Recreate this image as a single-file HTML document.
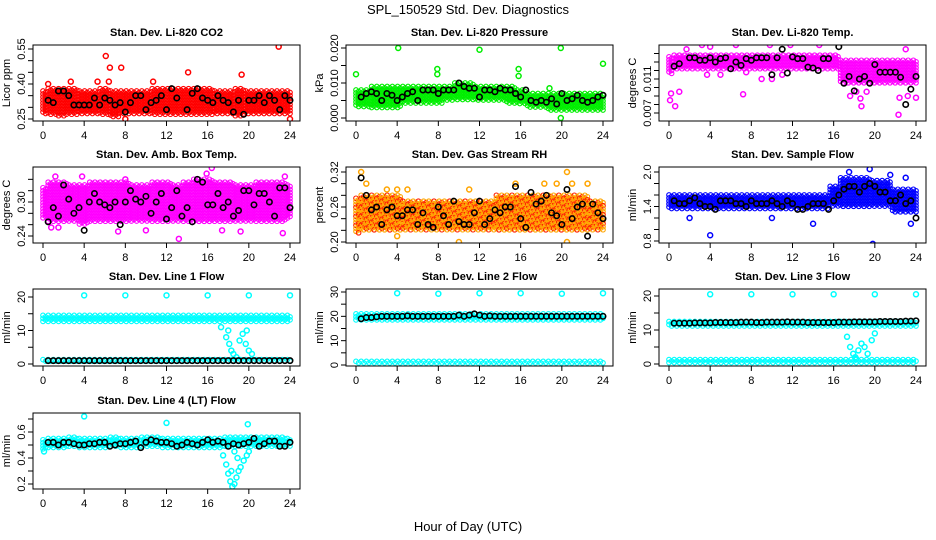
<!DOCTYPE html>
<html><head><meta charset="utf-8"><style>
body{margin:0;background:#fff;}
svg{display:block;font-family:"Liberation Sans",sans-serif;}
</style></head><body>
<svg id="chart" width="936" height="540" viewBox="0 0 936 540" xmlns="http://www.w3.org/2000/svg">
<rect x="0" y="0" width="936" height="540" fill="#fff"/>
<text x="468" y="14" text-anchor="middle" font-size="13">SPL_150529  Std. Dev. Diagnostics</text>
<text x="468" y="531" text-anchor="middle" font-size="13">Hour of Day (UTC)</text>
</svg>
<script>
const xTicks = [0,4,8,12,16,20,24];

const co2Lo = [0.27,0.27,0.26,0.27,0.27,0.27,0.27,0.26,0.27,0.27,0.27,0.27,0.27,0.27,0.27,0.27,0.27,0.27,0.27,0.26,0.27,0.27,0.27,0.27,0.27];
const co2Hi = [0.37,0.38,0.38,0.38,0.37,0.37,0.38,0.37,0.37,0.37,0.37,0.38,0.38,0.38,0.38,0.38,0.38,0.37,0.37,0.38,0.37,0.37,0.37,0.37,0.37];
const co2Blk = [0.33,0.32,0.37,0.37,0.35,0.31,0.31,0.31,0.31,0.34,0.31,0.34,0.33,0.31,0.32,0.28,0.32,0.35,0.35,0.29,0.32,0.33,0.35,0.29,0.38,0.34,null,0.29,0.36,0.38,0.34,0.33,0.32,0.35,0.33,0.32,0.28,0.33,0.27,0.33,0.33,0.35,0.32,0.35,0.33,0.29,0.35,0.33];
const co2Out = [[6.1,0.52],[6.5,0.47],[7.6,0.47],[6.4,0.41],[14.1,0.45],[19.3,0.44],[22.9,0.56],[8,0.25],[24,0.25],[5.3,0.41],[10.7,0.41],[0.5,0.40],[2.7,0.41]];

const presLo = [0.003,0.003,0.003,0.003,0.003,0.004,0.004,0.004,0.004,0.005,0.005,0.005,0.005,0.005,0.005,0.004,0.004,0.003,0.003,0.002,0.002,0.002,0.002,0.002,0.002];
const presHi = [0.008,0.008,0.009,0.009,0.009,0.009,0.009,0.009,0.009,0.009,0.010,0.010,0.009,0.009,0.009,0.009,0.008,0.007,0.007,0.007,0.007,0.007,0.007,0.007,0.007];
const presBlk = [0.006,0.007,0.0075,0.007,0.005,0.007,0.0065,0.005,0.006,0.007,0.0075,0.005,0.008,0.008,0.008,0.007,0.008,0.008,0.008,0.010,0.009,0.0085,0.0085,0.006,0.008,0.008,0.0075,0.0085,0.008,0.008,0.007,0.006,0.008,0.005,0.0045,0.005,0.0045,0.0055,0.004,0.007,0.005,0.0055,0.0065,0.005,0.0045,0.005,0.006,0.0065];
const presOut = [[0,0.0125],[4.1,0.020],[7.9,0.014],[7.9,0.0125],[12,0.0195],[15.8,0.014],[15.8,0.012],[19.9,0.020],[19.9,0.0],[24,0.0155],[18.8,0.0085]];

const tempLo = [0.0115,0.0122,0.0122,0.0122,0.0122,0.0122,0.0122,0.0122,0.0122,0.0122,0.0122,0.0122,0.0122,0.0122,0.0122,0.0122,0.0122,0.0105,0.0105,0.0105,0.0105,0.0105,0.0105,0.0105,0.0105];
const tempHi = [0.0136,0.0138,0.0138,0.0138,0.0138,0.0138,0.0138,0.0138,0.0138,0.0138,0.0138,0.0138,0.0138,0.0138,0.0138,0.0138,0.0138,0.0132,0.0132,0.0132,0.0132,0.0132,0.0132,0.0132,0.0132];
const tempBlk = [0.0125,0.0128,null,0.0135,0.0135,0.0132,0.0132,0.0135,0.013,0.0134,0.0135,0.0122,0.013,0.0126,0.0134,0.0132,0.0135,0.0135,0.0135,0.0115,0.0135,0.0145,0.0117,0.0136,0.0134,0.0134,0.0124,0.0123,0.012,0.0134,0.0134,null,0.0148,0.0105,0.0113,0.0096,0.011,0.0113,0.0105,0.0127,0.0118,0.0118,0.0118,0.0118,0.0112,0.008,0.0098,0.0113];
const tempOut = [[0.1,0.0085],[0.2,0.0093],[0.6,0.0078],[1,0.0095],[1.7,0.0145],[3.2,0.015],[4,0.0148],[6.5,0.015],[7.2,0.0092],[9.8,0.015],[11.8,0.015],[14.6,0.015],[17.6,0.009],[18.2,0.0095],[18.6,0.0087],[18.7,0.0078],[19.2,0.0095],[22.3,0.0068],[22.4,0.0088],[23,0.0145],[23.2,0.009],[24,0.0088],[3.7,0.0115],[5,0.0115],[7.5,0.0118],[9,0.011],[10,0.011],[11,0.0115]];

const ambLo = [0.27,0.265,0.265,0.265,0.26,0.265,0.265,0.265,0.265,0.265,0.265,0.265,0.265,0.265,0.265,0.265,0.265,0.265,0.265,0.265,0.265,0.265,0.265,0.265,0.27];
const ambHi = [0.325,0.335,0.335,0.33,0.33,0.335,0.335,0.335,0.335,0.33,0.33,0.335,0.335,0.33,0.335,0.34,0.34,0.335,0.335,0.33,0.33,0.335,0.335,0.335,0.33];
const ambBlk = [0.265,0.29,0.275,0.33,0.305,0.28,0.29,0.25,0.30,0.315,0.30,0.295,0.29,0.30,0.26,0.30,0.32,0.305,0.30,0.31,0.28,0.30,0.315,0.27,0.29,0.32,0.275,0.29,0.265,0.34,0.335,0.295,0.295,0.315,0.29,0.30,0.275,0.285,0.32,0.32,0.295,0.315,0.315,0.30,0.275,0.325,0.325,0.29];
const ambOut = [[1.2,0.345],[3.8,0.345],[8,0.34],[13.2,0.235],[15.9,0.35],[16.4,0.36],[19.2,0.248],[23.5,0.345],[23.3,0.245],[7.3,0.248],[10,0.25],[17.4,0.25],[0.8,0.255],[1.5,0.255]];

const rhLo = [0.215,0.22,0.22,0.22,0.22,0.22,0.22,0.22,0.22,0.22,0.22,0.22,0.22,0.22,0.22,0.22,0.22,0.22,0.22,0.22,0.22,0.22,0.22,0.22,0.22];
const rhHi = [0.275,0.28,0.28,0.28,0.28,0.27,0.27,0.27,0.27,0.27,0.27,0.27,0.27,0.27,0.28,0.28,0.28,0.28,0.28,0.28,0.28,0.28,0.28,0.27,0.27];
const rhBlk = [0.31,0.28,0.255,0.26,0.23,0.255,0.26,0.245,0.245,0.255,0.255,0.23,0.25,0.23,0.225,0.26,0.245,0.23,0.27,0.235,0.23,0.23,0.25,0.27,0.23,0.24,0.255,0.25,0.26,0.26,0.295,0.24,0.225,0.285,0.265,0.27,0.28,0.25,0.245,0.23,0.29,0.24,0.26,0.265,0.21,0.265,0.25,0.24];
const rhOut = [[0.5,0.32],[1,0.30],[3,0.29],[4,0.29],[5,0.29],[10,0.20],[11,0.29],[15.5,0.30],[18.3,0.30],[19.5,0.30],[20.5,0.32],[20.5,0.20],[21,0.30],[22.5,0.30],[4,0.21]];

const sfLo = [1.35,1.35,1.35,1.35,1.35,1.35,1.35,1.35,1.35,1.35,1.35,1.35,1.35,1.35,1.35,1.35,1.4,1.4,1.4,1.4,1.4,1.4,1.3,1.3,1.3];
const sfHi = [1.6,1.6,1.6,1.6,1.6,1.6,1.6,1.6,1.6,1.6,1.6,1.6,1.6,1.6,1.6,1.6,1.75,1.9,1.9,1.9,1.85,1.85,1.7,1.7,1.7];
const sfBlk = [1.5,1.45,1.45,1.5,1.55,1.45,1.4,1.4,1.35,1.5,1.5,1.5,1.45,1.45,1.4,1.5,1.45,1.45,1.45,1.5,1.45,1.4,1.5,1.45,1.35,1.35,1.4,1.45,1.45,1.45,1.35,1.5,1.6,1.7,1.75,1.75,1.65,1.75,1.8,1.75,1.65,1.65,1.5,1.5,1.6,1.45,1.5,1.2];
const sfOut = [[4,0.9],[19.8,0.75],[19.5,2.05],[17.5,2.0],[21.5,1.95],[23,1.9],[23.5,1.1],[14,1.1],[2,1.2],[10,1.2]];

const l1Lo = [12.5,12.5,12.5,12.5,12.5,12.5,12.5,12.5,12.5,12.5,12.5,12.5,12.5,12.5,12.5,12.5,12.5,12.5,12.5,12.5,12.5,12.5,12.5,12.5,12.5];
const l1Hi = [14.5,14.5,14.5,14.5,14.5,14.5,14.5,14.5,14.5,14.5,14.5,14.5,14.5,14.5,14.5,14.5,14.5,14.5,14.5,14.5,14.5,14.5,14.5,14.5,14.5];
const l1Lo2 = [0.5,0.5,0.5,0.5,0.5,0.5,0.5,0.5,0.5,0.5,0.5,0.5,0.5,0.5,0.5,0.5,0.5,0.5,0.5,0.5,0.5,0.5,0.5,0.5,0.5];
const l1Hi2 = [1.3,1.3,1.3,1.3,1.3,1.3,1.3,1.3,1.3,1.3,1.3,1.3,1.3,1.3,1.3,1.3,1.3,1.3,1.3,1.3,1.3,1.3,1.3,1.3,1.3];
const l1Blk = [1,1,1,1,1,1,1,1,1,1,1,1,1,1,1,1,1,1,1,1,1,1,1,1,1,1,1,1,1,1,1,1,1,1,1,1,1,1,1,1,1,1,1,1,1,1,1,1];
const l1Out = [[4,20.5],[8,20.5],[12,20.5],[16,20.5],[20,20.5],[24,20.5],[17.3,11],[17.8,8],[18.1,6],[18.3,4],[18.5,3],[18.8,2],[19.1,7],[19.4,9],[19.7,6],[20,4],[20.3,3],[18,10],[19.8,10]];

const l2Lo = [18.5,18.5,18.5,18.5,18.5,18.5,18.5,18.5,18.5,18.5,18.5,18.5,18.5,18.5,18.5,18.5,18.5,18.5,18.5,18.5,18.5,18.5,18.5,18.5,18.5];
const l2Hi = [21,21,21,21,21,21,21,21,21,21,21,21,21,21,21,21,21,21,21,21,21,21,21,21,21];
const l2Lo2 = [0.3,0.3,0.3,0.3,0.3,0.3,0.3,0.3,0.3,0.3,0.3,0.3,0.3,0.3,0.3,0.3,0.3,0.3,0.3,0.3,0.3,0.3,0.3,0.3,0.3];
const l2Hi2 = [1.5,1.5,1.5,1.5,1.5,1.5,1.5,1.5,1.5,1.5,1.5,1.5,1.5,1.5,1.5,1.5,1.5,1.5,1.5,1.5,1.5,1.5,1.5,1.5,1.5];
const l2Blk = [19,19.5,19.5,19.8,20,20,20,20,20,20.2,20,20,20,20,20,20,20,20,20,20.5,20,20.5,21,20.5,20,20.2,20,20,20,20,20,20,20,20,20,20,20,20,20,20,20,20,20,20,20,20,20,20];
const l2Out = [[4,29.5],[8,29.3],[12,29.5],[16,29.5],[20,29.3],[24,29.5]];

const l3Lo = [11,11,11,11,11,11,11,11,11,11,11,11,11,11,11,11,11,11,11,11,11,11,11,11,11];
const l3Hi = [12.5,12.5,12.5,12.5,12.5,12.5,12.5,12.5,12.5,12.5,12.5,12.5,12.5,12.5,12.5,12.5,12.5,12.5,12.5,12.5,12.5,12.5,12.5,12.5,12.5];
const l3Lo2 = [0.3,0.3,0.3,0.3,0.3,0.3,0.3,0.3,0.3,0.3,0.3,0.3,0.3,0.3,0.3,0.3,0.3,0.3,0.3,0.3,0.3,0.3,0.3,0.3,0.3];
const l3Hi2 = [1.3,1.3,1.3,1.3,1.3,1.3,1.3,1.3,1.3,1.3,1.3,1.3,1.3,1.3,1.3,1.3,1.3,1.3,1.3,1.3,1.3,1.3,1.3,1.3,1.3];
const l3Blk = [12,12,12,12,12.1,12.1,12.1,12.1,12.2,12.2,12.2,12.2,12.2,12.3,12.3,12.3,12.2,12.2,12.3,12.3,12.3,12.3,12.4,12.3,12.3,12.3,12.2,12.2,12.2,12.2,12.2,12.2,12.3,12.3,12.3,12.4,12.4,12.4,12.4,12.4,12.5,12.5,12.5,12.5,12.5,12.6,12.6,12.7];
const l3Out = [[4,20.5],[8,20.5],[12,20.5],[16,20.5],[20,20.5],[24,20.5],[17.3,8],[17.6,5],[17.9,3],[18.1,2],[18.4,4],[18.7,6],[19,5],[19.3,3],[19.7,7],[20,9],[18.2,1.5]];

const l4Lo = [0.47,0.48,0.48,0.48,0.48,0.48,0.48,0.48,0.48,0.48,0.48,0.48,0.48,0.48,0.48,0.48,0.48,0.48,0.49,0.49,0.49,0.49,0.49,0.49,0.49];
const l4Hi = [0.54,0.55,0.55,0.56,0.55,0.55,0.55,0.56,0.55,0.55,0.56,0.56,0.55,0.55,0.55,0.55,0.55,0.55,0.56,0.56,0.56,0.56,0.56,0.56,0.55];
const l4Blk = [0.52,0.52,0.50,0.52,0.52,0.51,0.50,0.50,0.51,0.51,0.52,0.52,0.49,0.50,0.51,0.51,0.52,0.53,0.48,0.52,0.54,0.53,0.52,0.52,0.51,0.49,0.50,0.52,0.51,0.50,0.52,0.54,0.52,0.53,0.52,0.49,0.51,0.50,0.51,0.52,0.55,0.49,0.51,0.53,0.53,0.49,0.49,0.52];
const l4Out = [[4,0.72],[12,0.67],[19.9,0.66],[0.1,0.45],[17.5,0.42],[17.8,0.35],[18,0.28],[18.2,0.22],[18.4,0.18],[18.6,0.2],[18.8,0.25],[19,0.3],[19.2,0.33],[19.5,0.38],[19.8,0.42],[20,0.45],[18.3,0.3],[18.9,0.4],[18.6,0.45]];

const rowTop = [45,167,289,413];
const rowBot = [121,243,366,489];
const colX0 = [43,356,669];

const panels = [
 {c:0,r:0,name:'co2',title:'Stan. Dev. Li-820 CO2',ylab:'Licor ppm',y0:0.25,p0:119,y1:0.55,p1:49,ticks:[0.25,0.30,0.35,0.40,0.45,0.50,0.55],labels:['0.25','0.40','0.55'],color:'#ff0000',bands:[[co2Lo,co2Hi]],blk:co2Blk,out:co2Out},
 {c:1,r:0,name:'pressure',title:'Stan. Dev. Li-820 Pressure',ylab:'kPa',y0:0,p0:118,y1:0.02,p1:48,ticks:[0,0.005,0.01,0.015,0.02],labels:['0.000','0.010','0.020'],color:'#00ee00',bands:[[presLo,presHi]],blk:presBlk,out:presOut},
 {c:2,r:0,name:'li820-temp',title:'Stan. Dev. Li-820 Temp.',ylab:'degrees C',y0:0.007,p0:113,y1:0.011,p1:79,ticks:[0.007,0.008,0.009,0.010,0.011,0.012,0.013,0.014],labels:['0.007','0.011'],color:'#ff00ff',bands:[[tempLo,tempHi]],blk:tempBlk,out:tempOut},
 {c:0,r:1,name:'amb-box-temp',title:'Stan. Dev. Amb. Box Temp.',ylab:'degrees C',y0:0.24,p0:236,y1:0.30,p1:202,ticks:[0.24,0.26,0.28,0.30,0.32,0.34],labels:['0.24','0.30'],color:'#ff00ff',bands:[[ambLo,ambHi]],blk:ambBlk,out:ambOut},
 {c:1,r:1,name:'gas-stream-rh',title:'Stan. Dev. Gas Stream RH',ylab:'percent',y0:0.20,p0:242,y1:0.32,p1:172,ticks:[0.20,0.22,0.24,0.26,0.28,0.30,0.32],labels:['0.20','0.26','0.32'],color:'#ffa500',color2:'#ff2000',bands:[[rhLo,rhHi]],blk:rhBlk,out:rhOut},
 {c:2,r:1,name:'sample-flow',title:'Stan. Dev. Sample Flow',ylab:'ml/min',y0:0.8,p0:241,y1:2.0,p1:172,ticks:[0.8,1.0,1.2,1.4,1.6,1.8,2.0],labels:['0.8','1.4','2.0'],color:'#0000ff',bands:[[sfLo,sfHi]],blk:sfBlk,out:sfOut},
 {c:0,r:2,name:'line1-flow',title:'Stan. Dev. Line 1 Flow',ylab:'ml/min',y0:0,p0:364,y1:20,p1:297,ticks:[0,5,10,15,20],labels:['0','10','20'],color:'#00ffff',bands:[[l1Lo,l1Hi],[l1Lo2,l1Hi2]],blk:l1Blk,out:l1Out},
 {c:1,r:2,name:'line2-flow',title:'Stan. Dev. Line 2 Flow',ylab:'ml/min',y0:0,p0:365,y1:30,p1:292,ticks:[0,5,10,15,20,25,30],labels:['0','10','20','30'],color:'#00ffff',bands:[[l2Lo,l2Hi],[l2Lo2,l2Hi2]],blk:l2Blk,out:l2Out},
 {c:2,r:2,name:'line3-flow',title:'Stan. Dev. Line 3 Flow',ylab:'ml/min',y0:0,p0:364,y1:20,p1:296,ticks:[0,5,10,15,20],labels:['0','10','20'],color:'#00ffff',bands:[[l3Lo,l3Hi],[l3Lo2,l3Hi2]],blk:l3Blk,out:l3Out},
 {c:0,r:3,name:'line4-flow',title:'Stan. Dev. Line 4 (LT) Flow',ylab:'ml/min',y0:0.2,p0:484,y1:0.6,p1:432,ticks:[0.2,0.3,0.4,0.5,0.6,0.7],labels:['0.2','0.4','0.6'],color:'#00ffff',bands:[[l4Lo,l4Hi]],blk:l4Blk,out:l4Out}
];

const NS = 'http://www.w3.org/2000/svg';
const svg = document.getElementById('chart');
function mk(tag, attrs, parent){
  const e = document.createElementNS(NS, tag);
  for (const k in attrs) e.setAttribute(k, attrs[k]);
  parent.appendChild(e);
  return e;
}

panels.forEach(p => {
  const x0 = colX0[p.c];
  const xs = t => x0 + t * 247 / 24;
  const ys = v => p.p0 + (v - p.y0) * (p.p1 - p.p0) / (p.y1 - p.y0);
  const top = rowTop[p.r], bot = rowBot[p.r];
  const left = x0 - 10, right = x0 + 257;

  const g = mk('g', {}, svg);
  
  

  const clip = mk('clipPath', {id: 'clip-' + p.name}, g);
  mk('rect', {x: left, y: top, width: right - left, height: bot - top}, clip);

  const title = mk('text', {x: (left + right) / 2, y: top - 9, 'text-anchor': 'middle', 'font-size': 11, 'font-weight': 'bold'}, g);
  title.textContent = p.title;
  
  

  const yl = mk('text', {x: left - 23, y: (top + bot) / 2, 'text-anchor': 'middle', 'font-size': 11, transform: 'rotate(-90 ' + (left - 23) + ' ' + ((top + bot) / 2) + ')'}, g);
  yl.textContent = p.ylab;
  
  

  const marks = mk('g', {'clip-path': 'url(#clip-' + p.name + ')', fill: 'none'}, g);
  
  

  p.bands.forEach(b => {
    const lo = b[0], hi = b[1];
    let col = 0;
    for (let px = xs(0); px <= xs(24) + 0.1; px += 2.6) {
      const t = (px - x0) * 24 / 247;
      const h = Math.min(24, Math.max(0, Math.round(t)));
      const yTop = ys(hi[h]), yBot = ys(lo[h]);
      const off = (col % 2) * 1.5;
      let rowi = 0;
      for (let py = Math.min(yTop, yBot) + off; py <= Math.max(yTop, yBot); py += 3) {
        const stroke = (p.color2 && (rowi + col) % 3 === 0) ? p.color2 : p.color;
        const c = mk('circle', {cx: px.toFixed(1), cy: py.toFixed(1), r: 2.3, stroke: stroke, 'stroke-width': 1.1}, marks);
        
        
        rowi++;
      }
      col++;
    }
  });

  p.out.forEach(o => {
    const c = mk('circle', {cx: xs(o[0]), cy: ys(o[1]), r: 2.5, stroke: p.color, 'stroke-width': 1.5}, marks);
    
    
  });

  p.blk.forEach((v, i) => {
    if (v === null) return;
    const c = mk('circle', {cx: xs((i + 1) * 0.5), cy: ys(v), r: 2.7, stroke: '#000', 'stroke-width': 1.6}, marks);
    
    
  });

  const box = mk('rect', {x: left, y: top, width: right - left, height: bot - top, fill: 'none', stroke: '#000', 'stroke-width': 1}, g);
  
  

  xTicks.forEach(t => {
    const tk = mk('line', {x1: xs(t), x2: xs(t), y1: bot, y2: bot + 5, stroke: '#000'}, g);
    
    
    const tl = mk('text', {x: xs(t), y: bot + 18, 'text-anchor': 'middle', 'font-size': 11}, g);
    tl.textContent = String(t);
    
    
  });

  p.ticks.forEach(v => {
    const yy = ys(v);
    if (yy < top - 0.5 || yy > bot + 0.5) return;
    const tk = mk('line', {x1: left - 5, x2: left, y1: yy, y2: yy, stroke: '#000'}, g);
    
    
  });
  p.labels.forEach(s => {
    const yy = ys(parseFloat(s));
    const tl = mk('text', {x: left - 8, y: yy, 'text-anchor': 'middle', 'font-size': 11, transform: 'rotate(-90 ' + (left - 8) + ' ' + yy + ')'}, g);
    tl.textContent = s;
    
    
  });
});
</script>
</body></html>
